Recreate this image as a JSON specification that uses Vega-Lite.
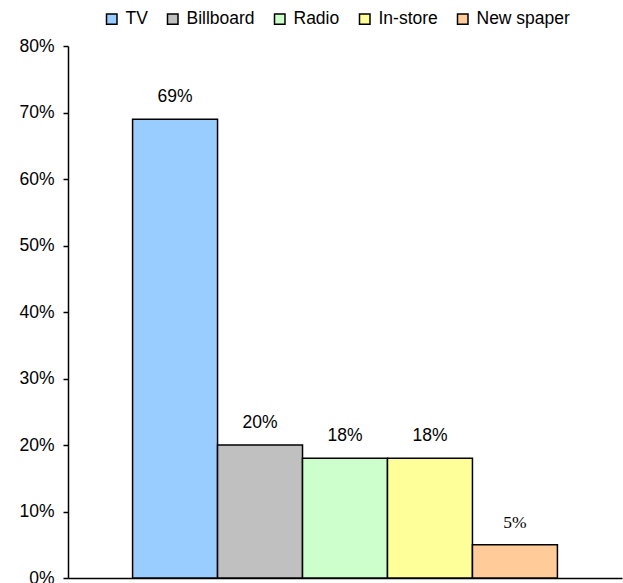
{
  "$schema": "https://vega.github.io/schema/vega-lite/v6.json",
  "width": 554,
  "height": 532,
  "autosize": {"type": "none"},
  "padding": {"left": 68, "top": 46, "right": 1, "bottom": 5},
  "background": "white",
  "config": {
    "view": {"stroke": null},
    "font": "Liberation Sans"
  },
  "data": {
    "values": [
      {"media": "TV", "share": 0.69, "label": "69%"},
      {"media": "Billboard", "share": 0.20, "label": "20%"},
      {"media": "Radio", "share": 0.18, "label": "18%"},
      {"media": "In-store", "share": 0.18, "label": "18%"},
      {"media": "New spaper", "share": 0.05, "label": "5%"}
    ]
  },
  "encoding": {
    "x": {
      "field": "media",
      "type": "nominal",
      "sort": ["TV", "Billboard", "Radio", "In-store", "New spaper"],
      "scale": {"paddingInner": 0, "paddingOuter": 0.76},
      "axis": {"labels": false, "ticks": false, "title": null, "domainColor": "black", "domainWidth": 1.5}
    },
    "y": {
      "field": "share",
      "type": "quantitative",
      "scale": {"domain": [0, 0.8], "nice": false},
      "axis": {
        "values": [0, 0.1, 0.2, 0.3, 0.4, 0.5, 0.6, 0.7, 0.8],
        "format": ".0%",
        "grid": false,
        "title": null,
        "domainColor": "black",
        "domainWidth": 1.5,
        "tickColor": "black",
        "tickSize": 5,
        "tickWidth": 1.5,
        "labelPadding": 9,
        "labelFont": "Liberation Sans",
        "labelFontSize": 17.5,
        "labelColor": "black"
      }
    }
  },
  "layer": [
    {
      "mark": {"type": "bar", "stroke": "black", "strokeWidth": 1.5, "opacity": 1},
      "encoding": {
        "color": {
          "field": "media",
          "type": "nominal",
          "scale": {
            "domain": ["TV", "Billboard", "Radio", "In-store", "New spaper"],
            "range": ["#99CCFF", "#C0C0C0", "#CCFFCC", "#FFFF99", "#FFCC99"]
          },
          "legend": {
            "title": null,
            "orient": "none",
            "direction": "horizontal",
            "legendX": 35,
            "legendY": -36,
            "symbolType": "square",
            "symbolSize": 110,
            "symbolStrokeColor": "black",
            "symbolStrokeWidth": 1.5,
            "symbolOpacity": 1,
            "labelFont": "Liberation Sans",
            "labelFontSize": 17.5,
            "labelColor": "black",
            "labelOffset": 5,
            "columnPadding": 16
          }
        }
      }
    },
    {
      "transform": [{"filter": "datum.media != 'New spaper'"}],
      "mark": {"type": "text", "baseline": "middle", "dy": -22, "font": "Liberation Sans", "fontSize": 17.5, "color": "black"},
      "encoding": {"text": {"field": "label"}}
    },
    {
      "transform": [{"filter": "datum.media == 'New spaper'"}],
      "mark": {"type": "text", "baseline": "middle", "dy": -22, "font": "Liberation Serif", "fontSize": 17.5, "color": "black"},
      "encoding": {"text": {"field": "label"}}
    }
  ]
}
